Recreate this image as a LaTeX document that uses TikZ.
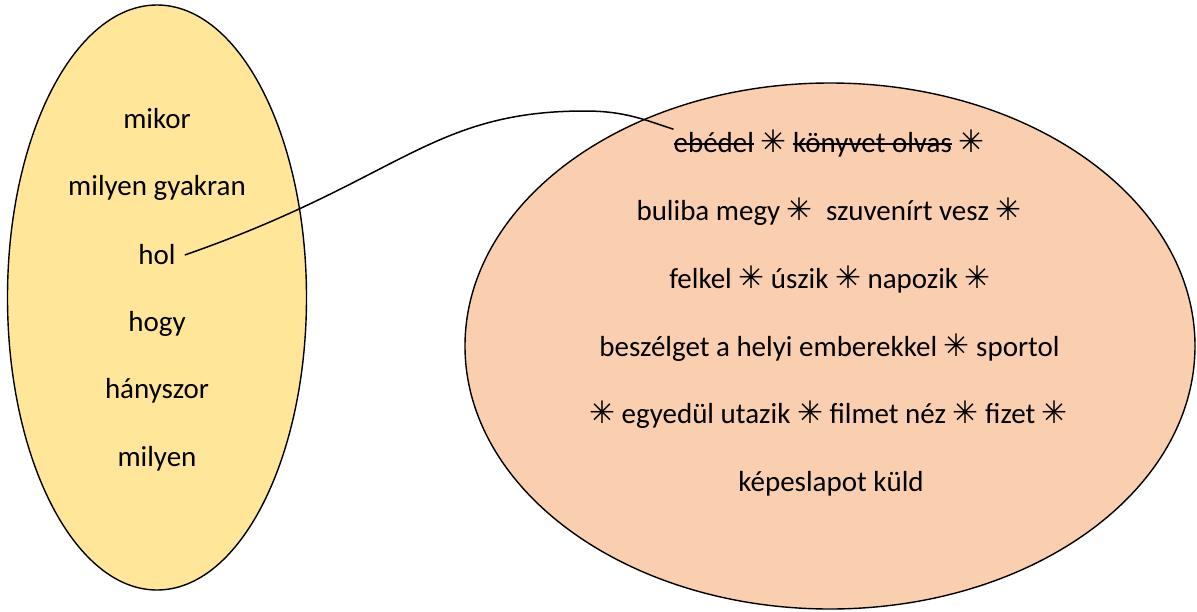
\documentclass[tikz,border=0pt]{standalone}
\usepackage{fontspec}
\setmainfont{Carlito}
\newfontfamily\symfont{DejaVu Sans Bold}
\definecolor{lefty}{HTML}{FFE699}
\definecolor{righto}{HTML}{F9CFAF}
\newcommand{\sstar}{{\symfont\fontsize{31}{35}\selectfont ✳}}
\newcommand{\strk}[1]{\setbox0\hbox{#1}\rlap{\rule[7.5pt]{\wd0}{1.8pt}}\box0\relax}
\tikzset{
  blob/.style={draw=black, line width=1.4pt},
  word/.style={anchor=base, inner sep=0pt, font=\fontsize{29}{35}\selectfont},
  link/.style={draw=black, line width=1.5pt}
}
\begin{document}
\begin{tikzpicture}[x=1pt, y=-1pt]
\useasboundingbox (0,0) rectangle (1197,611);
% ellipses
\path[blob, fill=lefty] (157,297.5) ellipse [x radius=149.5, y radius=292.5];
\path[blob, fill=righto] (830,346) ellipse [x radius=365, y radius=263];
% left words
\node[word] (mikor) at (157,128) {mikor};
\node[word] (gyakran) at (157,195) {milyen gyakran};
\node[word] (hol) at (157,264) {hol};
\node[word] (hogy) at (157,331) {hogy};
\node[word] (hanyszor) at (157,398) {hányszor};
\node[word] (milyen) at (157,466) {milyen};
% right words
\node[word] (l1) at (829,152) {\strk{ebédel} \sstar{} \strk{könyvet olvas} \sstar};
\node[word] (l2) at (829,220) {buliba megy \sstar{}\ \ szuvenírt vesz \sstar};
\node[word] (l3) at (830,288) {felkel \sstar{} úszik \sstar{} napozik \sstar};
\node[word] (l4) at (829.5,356) {beszélget a helyi emberekkel \sstar{} sportol};
\node[word] (l5) at (828.5,423) {\sstar{} egyedül utazik \sstar{} filmet néz \sstar{} fizet \sstar};
\node[word] (l6) at (831,491) {képeslapot küld};
% connector
\draw[link] ([xshift=9pt, yshift=9pt]hol.base east)
  .. controls (400,180) and (430,111) .. (585,111)
  .. controls (625,111) and (645,120) .. (l1.north west);
\end{tikzpicture}
\end{document}
